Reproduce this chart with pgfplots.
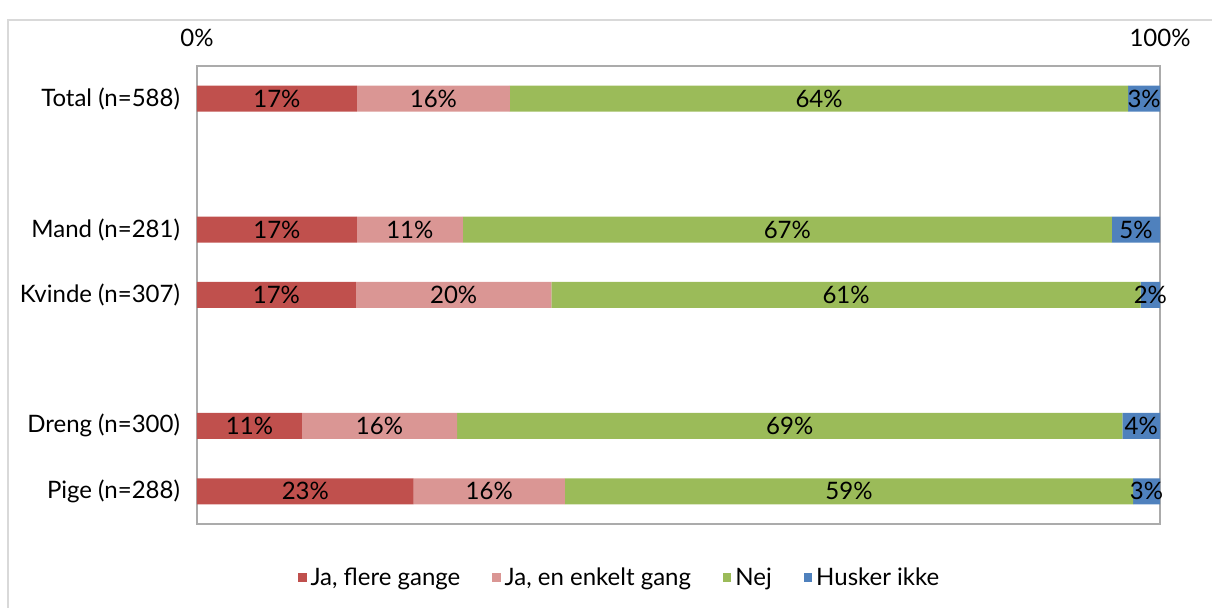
\documentclass[border=0pt]{standalone}
\usepackage{fontspec}
\setmainfont{Lato}
\usepackage{pgfplots}
\pgfplotsset{compat=1.18}
\definecolor{cRed}{HTML}{C0504D}
\definecolor{cPink}{HTML}{DA9694}
\definecolor{cGreen}{HTML}{9BBB59}
\definecolor{cBlue}{HTML}{4F81BD}
\definecolor{cAxis}{HTML}{ABABAB}
\definecolor{cFrame}{HTML}{D9D9D9}
\begin{document}
\begin{tikzpicture}[x=1pt,y=1pt]
\useasboundingbox (0,0) rectangle (606,304);
\clip (0,0) rectangle (606,304);
\draw[cFrame, line width=1pt] (4,-10) -- (4,294) -- (620,294);
\begin{axis}[
  at={(98.5pt,42pt)}, anchor=south west,
  scale only axis, width=481.5pt, height=229pt,
  xbar stacked, bar width=13pt,
  xmin=0, xmax=100, ymin=-0.5, ymax=6.5, y dir=reverse,
  xtick={0,100}, xticklabels={0\%,100\%}, xticklabel pos=upper,
  ytick={0,2,3,5,6},
  yticklabels={Total (n=588),Mand (n=281),Kvinde (n=307),Dreng (n=300),Pige (n=288)},
  major tick length=0pt,
  axis line style={cAxis, line width=0.8pt},
  tick label style={font=\fontsize{12}{14}\selectfont, text=black},
  yticklabel style={xshift=-5pt},
  xticklabel style={yshift=6pt},
  point meta=explicit symbolic,
  nodes near coords={\pgfplotspointmeta\%},
  every node near coord/.append style={anchor=center, font=\fontsize{12}{14}\selectfont, text=black},
  legend style={at={(0.44,-0.118)}, anchor=center, draw=none, fill=none,
     legend columns=4, font=\fontsize{12}{14}\selectfont,
     /tikz/every even column/.append style={column sep=14pt},
     legend cell align=left},
  legend image code/.code={\fill[#1] (0pt,-2.2pt) rectangle (4.2pt,2.4pt);},
]
\addplot[fill=cRed, draw=none] coordinates {(16.6,0) [17] (16.6,2) [17] (16.5,3) [17] (10.9,5) [11] (22.5,6) [23]};
\addplot[fill=cPink, draw=none] coordinates {(15.9,0) [16] (11.0,2) [11] (20.3,3) [20] (16.1,5) [16] (15.7,6) [16]};
\addplot[fill=cGreen, draw=none] coordinates {(64.2,0) [64] (67.4,2) [67] (61.2,3) [61] (69.1,5) [69] (59.0,6) [59]};
\addplot[fill=cBlue, draw=none] coordinates {(3.3,0) [3] (5.0,2) [5] (2.0,3) [2] (3.9,5) [4] (2.8,6) [3]};
\legend{{Ja, flere gange}, {Ja, en enkelt gang}, Nej, Husker ikke}
\end{axis}
\end{tikzpicture}
\end{document}
